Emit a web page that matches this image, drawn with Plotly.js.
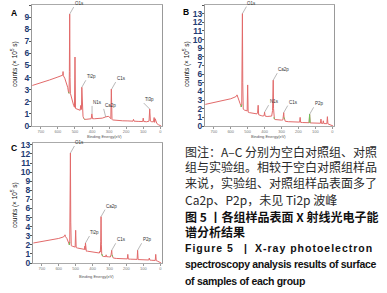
<!DOCTYPE html>
<html><head><meta charset="utf-8">
<script src="https://cdn.plot.ly/plotly-3.0.1.min.js"></script>
<style>html,body{margin:0;padding:0;background:#fff;overflow:hidden}#chart{width:387px;height:293px}</style>
</head><body><div id="chart"></div>
<script>
// ---------- data ----------
const energyA = [750,700,650,600,580,572,570,568,560,550,543,538,535,533,531,529,527,522,515,508,503,500,497,490,480,470,466,464,462,460,457,453,448,443,435,420,405,401,397,385,360,340,320,305,295,290,287,285,283,280,270,250,220,190,160,157,154,130,103,100,97,80,66,62,58,50,40,36,33,30,25,20,10,5,0,-5];
const countsA = [3.35,3.55,3.8,4.05,4.15,4.2,4.5,4.15,3.95,3.6,3.2,2.8,2.7,4.5,9.25,4.0,2.7,2.4,2.1,1.7,1.55,5.7,1.45,1.4,1.35,1.3,1.7,1.35,1.4,3.2,1.2,0.8,0.6,0.55,0.55,0.6,0.6,1.0,0.6,0.6,0.6,0.65,0.75,0.8,0.7,0.6,3.05,0.8,0.55,0.5,0.48,0.45,0.43,0.42,0.4,0.55,0.4,0.38,0.37,0.65,0.37,0.35,0.4,1.4,0.4,0.35,0.35,0.7,0.3,0.6,0.25,0.2,0.1,0.05,0,0];

const energyB = [750,700,650,600,575,566,563,560,552,545,540,537,535,533,531,529,526,520,510,503,500,497,490,470,455,445,441,438,435,430,420,410,403,400,397,385,370,358,353,351,349,347,345,342,338,330,315,300,292,289,287,285,283,278,260,230,200,193,190,187,175,150,137,134,131,120,100,80,70,67,64,56,53,50,40,32,29,26,20,10,5,0,-5];
const countsB = [2.5,2.7,2.9,3.15,3.35,3.45,3.6,3.35,3.0,2.6,2.3,2.2,2.5,6.0,13.0,5.0,1.95,1.85,1.8,1.75,4.75,1.6,1.55,1.5,1.45,1.4,1.6,2.4,1.3,1.25,1.2,1.15,1.2,1.6,1.15,1.1,1.1,1.15,1.8,2.9,5.3,2.0,1.0,0.8,0.75,0.72,0.7,0.68,0.7,1.2,1.55,1.0,0.8,0.55,0.5,0.45,0.45,0.45,1.0,0.42,0.4,0.38,0.38,1.35,0.36,0.35,0.33,0.32,0.32,0.8,0.3,0.3,0.6,0.28,0.27,0.27,1.08,0.25,0.2,0.12,0.05,0,0];

const energyC = [750,700,650,600,575,566,563,560,552,545,540,537,535,533,531,529,526,520,510,503,500,497,490,470,455,448,446,444,442,440,437,430,415,400,385,370,360,357,354,352,350,348,346,344,341,337,330,322,320,318,305,295,291,289,287,285,283,278,260,230,200,195,192,189,175,150,137,134,131,120,100,80,68,65,62,50,40,30,27,24,18,10,5,0,-5];
const countsC = [2.2,2.35,2.5,2.7,2.85,2.95,3.1,2.9,2.7,2.4,2.1,2.0,2.3,5.5,12.1,4.5,1.9,1.85,1.8,1.75,3.6,1.7,1.65,1.6,1.55,1.5,1.85,1.45,2.2,1.4,1.3,1.3,1.25,1.2,1.15,1.1,1.1,1.3,1.2,2.4,5.1,2.0,1.0,0.8,0.75,0.72,0.72,0.7,0.9,0.7,0.68,0.66,0.9,1.1,1.4,0.9,0.7,0.55,0.5,0.47,0.45,0.45,0.95,0.43,0.42,0.4,0.4,1.4,0.38,0.37,0.35,0.34,0.33,0.55,0.32,0.3,0.3,0.28,0.95,0.26,0.22,0.12,0.05,0,0];

// background-fit (green) spans, eV
const greenSpansA = [[541,535],[520,512],[450,443]];
const greenSpansB = [[540,535],[346,340],[285,280],[140,131]];
const greenSpansC = [[540,535],[346,341],[285,280]];

// peak labels
const peakLabelsA = ['O1s','Ti2p','N1s','Ca2p','C1s','Ti3p'];
const peakEnergiesA = [531,460,400,320,285,62];
const peakLabelsB = ['O1s','N1s','Ca2p','C1s','P2p'];
const peakEnergiesB = [531,400,349,287,134];
const peakLabelsC = ['O1s','Ti2p','Ca2p','C1s','P2p'];
const peakEnergiesC = [531,442,350,287,134];

const xTickVals = [700,600,500,400,300,200,100,0];
const xTickText = ['700','600','500','400','300','200','100','0'];

const captionLines = [
  '图注：A–C 分别为空白对照组、对照',
  '组与实验组。相较于空白对照组样品',
  '来说，实验组、对照组样品表面多了',
  'Ca2p、P2p，未见 Ti2p 波峰',
  '图 5 丨各组样品表面 X 射线光电子能',
  '谱分析结果'
];
const captionEn = ['Figure 5', '|', 'X-ray photoelectron', 'spectroscopy analysis results of surface', 'of samples of each group'];

// ---------- layout helpers ----------
const W = 387, H = 293;
const PX = p => p / W, PY = p => 1 - p / H;
const RED = '#e26a6a', GREEN = '#6fc25a';

function greenTrace(E, Y, spans, xa, ya) {
  const gx = [], gy = [];
  spans.forEach(s => {
    for (let i = 0; i < E.length; i++) if (E[i] <= s[0] && E[i] >= s[1]) { gx.push(E[i]); gy.push(Y[i]); }
    gx.push(null); gy.push(null);
  });
  return {x: gx, y: gy, xaxis: xa, yaxis: ya, mode: 'lines', line: {color: GREEN, width: 1}, hoverinfo: 'skip', connectgaps: false};
}
function peakY(E, Y, e) {
  let m = 0;
  for (let i = 0; i < E.length; i++) if (Math.abs(E[i] - e) <= 3 && Y[i] > m) m = Y[i];
  return m;
}
const labelOffsets = {A: {N1s: [0, -8], Ca2p: [-2, -8], Ti3p: [-6, -6]}, B: {}, C: {}};
function peakAnnots(panel, names, energies, E, Y, xr, yr) {
  return names.map((n, i) => {
    const o = labelOffsets[panel][n] || [4, -7];
    return {x: energies[i], y: peakY(E, Y, energies[i]), xref: xr, yref: yr, text: n,
      showarrow: true, arrowhead: 0, arrowwidth: 0.6, arrowcolor: '#888', ax: o[0], ay: o[1],
      xanchor: 'left', yanchor: 'bottom', font: {size: 4.5, color: '#333', family: 'Liberation Sans'}, borderpad: 0};
  });
}

const traces = [
  {x: energyA, y: countsA, xaxis: 'x', yaxis: 'y', mode: 'lines', line: {color: RED, width: 1}},
  greenTrace(energyA, countsA, greenSpansA, 'x', 'y'),
  {x: energyB, y: countsB, xaxis: 'x2', yaxis: 'y2', mode: 'lines', line: {color: RED, width: 1}},
  greenTrace(energyB, countsB, greenSpansB, 'x2', 'y2'),
  {x: energyC, y: countsC, xaxis: 'x3', yaxis: 'y3', mode: 'lines', line: {color: RED, width: 1}},
  greenTrace(energyC, countsC, greenSpansC, 'x3', 'y3')
];

function xAx(dom, anchor) {
  return {domain: dom, anchor: anchor, range: [752, -10], tickvals: xTickVals, ticktext: xTickText,
    tickfont: {size: 4, color: '#777', family: 'Liberation Sans'}, ticks: 'outside', ticklen: 1.5, tickcolor: '#999',
    showline: true, mirror: true, linecolor: '#aaa', linewidth: 1, showgrid: false, zeroline: false};
}
function yAx(dom, anchor, top) {
  return {domain: dom, anchor: anchor, range: [0, top], dtick: 1, tick0: 0,
    tickfont: {size: 8.5, color: '#1f3c73', family: 'Liberation Sans Narrow, Liberation Sans', weight: 700},
    ticks: 'outside', ticklen: 2, tickcolor: '#555', ticklabelstandoff: -2,
    showline: true, mirror: true, linecolor: '#999', linewidth: 1, showgrid: false, zeroline: false};
}

const ann = [];
const C = {xanchor: 'center', yanchor: 'middle', showarrow: false, xref: 'paper', yref: 'paper'};
// panel letters
[['A', 14, 13], ['B', 186, 12], ['C', 14, 148]].forEach(p => ann.push(Object.assign({}, C, {x: PX(p[1]), y: PY(p[2]),
  text: '<b>' + p[0] + '</b>', font: {size: 8.5, color: '#000', family: 'Liberation Sans'}})));
// y titles
[[14, 64], [186, 64], [14, 205]].forEach(p => ann.push(Object.assign({}, C, {x: PX(p[0]), y: PY(p[1]),
  text: 'counts (× 10<sup>5</sup> s)', textangle: -90, font: {size: 6.5, color: '#111', family: 'Liberation Sans'}})));
// x titles
[[104, 136.5], [268, 136.5], [96, 276.5]].forEach(p => ann.push(Object.assign({}, C, {x: PX(p[0]), y: PY(p[1]),
  text: 'Binding Energy(eV)', font: {size: 4, color: '#555', family: 'Liberation Sans'}})));
// peak labels
ann.push(...peakAnnots('A', peakLabelsA, peakEnergiesA, energyA, countsA, 'x', 'y'));
ann.push(...peakAnnots('B', peakLabelsB, peakEnergiesB, energyB, countsB, 'x2', 'y2'));
ann.push(...peakAnnots('C', peakLabelsC, peakEnergiesC, energyC, countsC, 'x3', 'y3'));
// caption (Chinese)
const capY = [151.7, 166.7, 182.3, 199.3, 216, 231];
captionLines.forEach((t, i) => ann.push({xref: 'paper', yref: 'paper', x: PX(183), y: PY(capY[i]), xanchor: 'left', yanchor: 'middle',
  text: t, showarrow: false, font: {size: 12, color: i < 4 ? '#2a2a2a' : '#111', family: 'Noto Sans CJK SC', weight: i < 4 ? 400 : 700}}));
// caption (English)
const enFont = {size: 10.5, color: '#111', family: 'Liberation Sans', weight: 700};
ann.push({xref: 'paper', yref: 'paper', x: PX(183), y: PY(248), xanchor: 'left', yanchor: 'middle', showarrow: false,
  text: '<span style="letter-spacing:1px">' + captionEn[0] + '</span>', font: enFont});
ann.push({xref: 'paper', yref: 'paper', x: PX(245), y: PY(248), xanchor: 'center', yanchor: 'middle', showarrow: false,
  text: captionEn[1], font: enFont});
ann.push({xref: 'paper', yref: 'paper', x: PX(375), y: PY(248), xanchor: 'right', yanchor: 'middle', showarrow: false,
  text: '<span style="letter-spacing:1px">' + captionEn[2] + '</span>', font: enFont});
ann.push({xref: 'paper', yref: 'paper', x: PX(183), y: PY(264.3), xanchor: 'left', yanchor: 'middle', showarrow: false,
  text: '<span style="letter-spacing:-0.3px">' + captionEn[3] + '</span>', font: enFont});
ann.push({xref: 'paper', yref: 'paper', x: PX(183), y: PY(280.5), xanchor: 'left', yanchor: 'middle', showarrow: false,
  text: '<span style="letter-spacing:-0.3px">' + captionEn[4] + '</span>', font: enFont});

const layout = {
  width: W, height: H, margin: {l: 0, r: 0, t: 0, b: 0}, showlegend: false,
  paper_bgcolor: '#fff', plot_bgcolor: '#fff',
  xaxis: xAx([PX(32), PX(162)], 'y'), yaxis: yAx([PY(126), PY(5)], 'x', 10),
  xaxis2: xAx([PX(205), PX(334)], 'y2'), yaxis2: yAx([PY(126), PY(5)], 'x2', 14),
  xaxis3: xAx([PX(33), PX(162)], 'y3'), yaxis3: yAx([PY(263), PY(143)], 'x3', 13.2),
  annotations: ann
};
Plotly.newPlot('chart', traces, layout, {staticPlot: true, displayModeBar: false});
</script></body></html>
